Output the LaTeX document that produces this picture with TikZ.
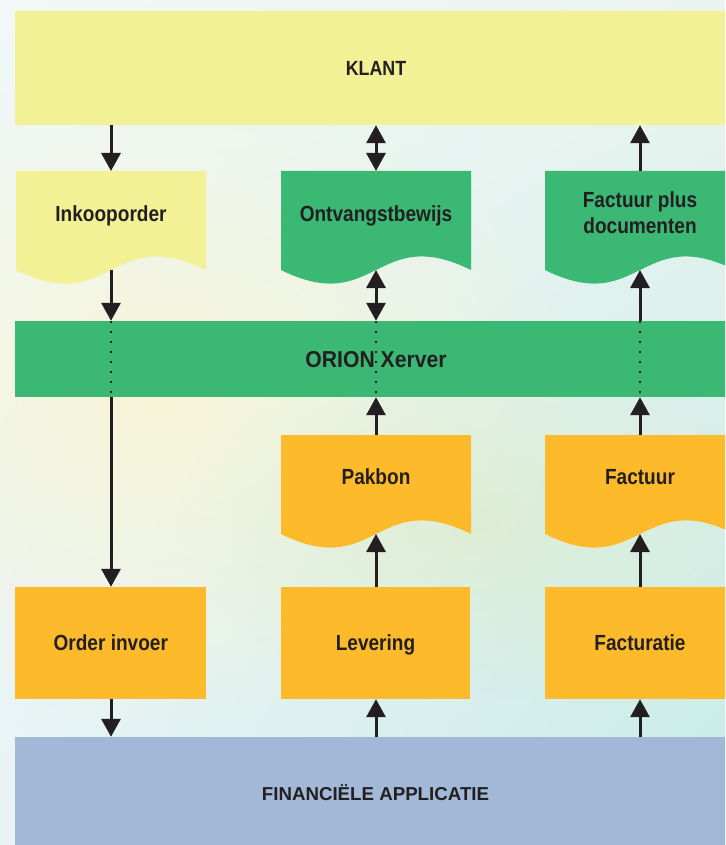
\documentclass[tikz,border=0pt]{standalone}
\usepackage{fontspec}
\setmainfont{Liberation Sans}
\newfontfamily\condsans[FakeStretch=0.87]{Liberation Sans}
\newfontfamily\orionsans[FakeStretch=0.92]{Liberation Sans}
\usetikzlibrary{arrows.meta,fadings,shadings}
\tikzfading[name=softglow, inner color=transparent!0, outer color=transparent!100]
\definecolor{bgUL}{HTML}{F1F8F6}
\definecolor{bgUR}{HTML}{EAF4EF}
\definecolor{bgLL}{HTML}{E8F3F6}
\definecolor{bgLR}{HTML}{C6EBE7}
\definecolor{glowY}{HTML}{F8F6D8}
\definecolor{glowG}{HTML}{DDEDCF}
\definecolor{klantY}{HTML}{F2F195}
\definecolor{greenC}{HTML}{3AB874}
\definecolor{orangeC}{HTML}{FDBB2B}
\definecolor{blueC}{HTML}{A1B9D7}
\definecolor{ink}{HTML}{231F20}
\tikzset{
  bar/.style={fill=#1, draw=none, inner sep=0pt, text=ink},
  boxnode/.style={fill=orangeC, draw=none, minimum height=112pt, inner sep=0pt,
    font=\condsans\bfseries\fontsize{21.9}{26}\selectfont, text=ink, text height=15.7pt, text depth=0pt},
  doclabel/.style={font=\condsans\bfseries\fontsize{21.9}{26}\selectfont, text=ink, align=center, inner sep=0pt},
  capfix/.style={text height=15.7pt, text depth=0pt},
  flow/.style={draw=ink, line width=3pt, -{Triangle[length=18pt,width=19pt]}},
  flowboth/.style={draw=ink, line width=3pt, {Triangle[length=18pt,width=19pt]}-{Triangle[length=18pt,width=19pt]}},
  dotline/.style={draw=ink, line width=1.8pt, dash pattern=on 1.8pt off 8.2pt}
}
\begin{document}
\begin{tikzpicture}[x=1pt,y=-1pt]
\useasboundingbox (0,0) rectangle (725,845);
\clip (0,0) rectangle (725,845);
% background
\shade[upper left=bgUL, upper right=bgUR, lower left=bgLL, lower right=bgLR] (0,0) rectangle (725,845);
\fill[glowY, path fading=softglow] (160,400) ellipse [x radius=420pt, y radius=330pt];
\fill[glowG, path fading=softglow, opacity=0.8] (480,520) ellipse [x radius=300pt, y radius=180pt];
% column coordinates
\coordinate (c1) at (111,0);
\coordinate (c2) at (376,0);
\coordinate (c3) at (640,0);
% bars
\node[bar=klantY, minimum width=722pt, minimum height=114pt] (klant) at (376,68) {};
\node[font=\condsans\bfseries\fontsize{20.5}{24}\selectfont, text=ink, inner sep=0pt, text height=14.7pt, text depth=0pt] (klantT) at (376,68.3) {KLANT};
\node[bar=greenC, minimum width=722pt, minimum height=76pt] (orion) at (376,359) {};
\node[font=\orionsans\bfseries\fontsize{23}{26}\selectfont, text=ink, inner sep=0pt, text height=16.4pt, text depth=0pt] (orionT) at (376,358.8) {ORION Xerver};
\node[bar=blueC, minimum width=722pt, minimum height=116pt] (fin) at (376,795) {};
\node[font=\bfseries\fontsize{18.7}{22}\selectfont, text=ink, inner sep=0pt, text height=13.4pt, text depth=0pt] (finT) at (375.5,794) {FINANCIËLE APPLICATIE};
% documents
\fill[klantY] (16,171) -- (206,171) -- (206,270) .. controls (111,223) and (111,317) .. (16,270) -- cycle;
\fill[greenC] (281,171) -- (471,171) -- (471,270) .. controls (376,223) and (376,317) .. (281,270) -- cycle;
\fill[greenC] (545,171) -- (735,171) -- (735,270) .. controls (640,223) and (640,317) .. (545,270) -- cycle;
\fill[orangeC] (281,435) -- (471,435) -- (471,534) .. controls (376,487) and (376,581) .. (281,534) -- cycle;
\fill[orangeC] (545,435) -- (735,435) -- (735,534) .. controls (640,487) and (640,581) .. (545,534) -- cycle;
\coordinate (inkoT) at (111,171); \coordinate (inkoB) at (111,270);
\coordinate (ontvT) at (376,171); \coordinate (ontvB) at (376,270);
\coordinate (fpdT) at (640,171);  \coordinate (fpdB) at (640,270);
\coordinate (pakT) at (376,435);  \coordinate (pakB) at (376,534);
\coordinate (facT) at (640,435);  \coordinate (facB) at (640,534);
\node[doclabel, capfix] (inko) at (111,213.8) {Inkooporder};
\node[doclabel, capfix] (ontv) at (376,213.4) {Ontvangstbewijs};
\node[doclabel, anchor=north] (fpd) at (640,191.8) {Factuur plus\\documenten};
\node[doclabel, capfix] (pak) at (376,476.2) {Pakbon};
\node[doclabel, capfix] (fac) at (640,476.2) {Factuur};
% boxes
\node[boxnode, minimum width=191pt] (order) at (110.5,643) {};
\node[boxnode, minimum width=189pt] (lev) at (375.5,643) {};
\node[boxnode, minimum width=190pt] (fact) at (640,643) {};
\node[doclabel, capfix] (orderT) at (110.8,642.8) {Order invoer};
\node[doclabel, capfix] (levT) at (375.5,642.8) {Levering};
\node[doclabel, capfix] (factT) at (640,642.8) {Facturatie};
% connectors
\draw[flow] (klant.south -| c1) -- (inkoT);
\draw[flowboth] (klant.south -| c2) -- (ontvT);
\draw[flow] (fpdT) -- (klant.south -| c3);
\draw[flow] (inkoB) -- (orion.north -| c1);
\draw[flowboth] (ontvB) -- (orion.north -| c2);
\draw[flow] (orion.north -| c3) -- (fpdB);
\draw[dotline] (orion.north -| c1) -- (orion.south -| c1);
\draw[dotline] (orion.north -| c2) -- (orion.south -| c2);
\draw[dotline] (orion.north -| c3) -- (orion.south -| c3);
\draw[flow] (orion.south -| c1) -- (order.north -| c1);
\draw[flow] (pakT) -- (orion.south -| c2);
\draw[flow] (facT) -- (orion.south -| c3);
\draw[flow] (lev.north -| c2) -- (pakB);
\draw[flow] (fact.north -| c3) -- (facB);
\draw[flow] (order.south -| c1) -- (fin.north -| c1);
\draw[flow] (fin.north -| c2) -- (lev.south -| c2);
\draw[flow] (fin.north -| c3) -- (fact.south -| c3);
\end{tikzpicture}
\end{document}
